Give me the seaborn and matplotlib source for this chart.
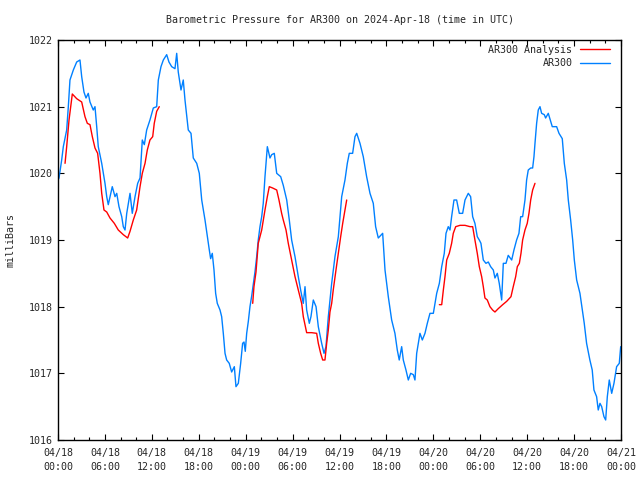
"""
Barometric pressure at AR300, observations vs. analysis.
"""

import matplotlib

matplotlib.use("Agg")
import matplotlib.dates as mdates
import matplotlib.pyplot as plt
import pandas as pd
import seaborn as sns

START = pd.Timestamp("2024-04-18 00:00")

# AR300 observations (hours since 04/18 00:00 UTC, millibars)
obs_hours = [
    0.0, 0.13, 0.47, 0.68, 1.11, 1.32, 1.53, 1.96, 2.39, 2.81, 3.03, 3.32, 3.58,
    3.87, 4.09, 4.51, 4.73, 4.95, 5.15, 5.59, 6.01, 6.23, 6.43, 6.94, 7.29, 7.51,
    7.80, 8.15, 8.35, 8.57, 8.79, 9.21, 9.50, 9.85, 10.19, 10.49, 10.78, 11.04,
    11.34, 11.76, 12.19, 12.62, 12.83, 13.17, 13.47, 13.90, 14.19, 14.54, 14.96,
    15.18, 15.38, 15.73, 16.02, 16.24, 16.66, 17.01, 17.30, 17.74, 18.07, 18.38,
    18.80, 19.10, 19.35, 19.52, 19.73, 19.95, 20.16, 20.37, 20.72, 20.93, 21.14,
    21.36, 21.57, 21.90, 22.21, 22.55, 22.76, 23.06, 23.36, 23.61, 23.79, 23.95,
    24.13, 24.34, 24.55, 24.77, 25.19, 25.41, 25.61, 25.83, 26.05, 26.25, 26.47,
    26.77, 27.11, 27.33, 27.66, 27.97, 28.48, 28.81, 29.25, 29.58, 29.88, 30.31,
    30.73, 31.03, 31.37, 31.59, 31.80, 32.14, 32.35, 32.65, 33.00, 33.29, 33.72,
    34.02, 34.27, 34.57, 35.00, 35.42, 35.85, 36.28, 36.70, 37.00, 37.25, 37.68,
    37.98, 38.20, 38.62, 39.04, 39.47, 39.90, 40.32, 40.62, 40.96, 41.52, 41.82,
    42.24, 42.67, 43.09, 43.39, 43.64, 43.95, 44.16, 44.50, 44.80, 45.10, 45.44,
    45.65, 45.87, 46.08, 46.29, 46.59, 46.93, 47.23, 47.57, 48.00, 48.43, 48.77,
    49.07, 49.40, 49.62, 49.91, 50.13, 50.34, 50.64, 50.98, 51.32, 51.75, 52.05,
    52.47, 52.77, 53.03, 53.32, 53.62, 53.88, 54.09, 54.39, 54.73, 55.03, 55.33,
    55.67, 55.88, 56.18, 56.43, 56.74, 56.95, 57.29, 57.58, 58.02, 58.31, 58.65,
    58.95, 59.17, 59.42, 59.72, 59.93, 60.14, 60.45, 60.70, 60.87, 61.00, 61.21,
    61.42, 61.64, 61.85, 62.19, 62.36, 62.70, 63.21, 63.77, 64.07, 64.49, 64.75,
    65.05, 65.26, 65.56, 65.82, 66.03, 66.33, 66.75, 67.05, 67.30, 67.60, 68.02,
    68.32, 68.54, 68.88, 69.09, 69.31, 69.53, 69.82, 70.04, 70.25, 70.50, 70.81,
    71.10, 71.44, 71.78, 71.96,
]
obs_mbar = [
    1019.90, 1019.93, 1020.20, 1020.40, 1020.65, 1021.00, 1021.40, 1021.55,
    1021.67, 1021.70, 1021.45, 1021.22, 1021.13, 1021.20, 1021.07, 1020.95,
    1021.00, 1020.70, 1020.40, 1020.15, 1019.85, 1019.65, 1019.53, 1019.80,
    1019.65, 1019.70, 1019.50, 1019.35, 1019.20, 1019.15, 1019.40, 1019.70,
    1019.40, 1019.65, 1019.85, 1019.93, 1020.50, 1020.43, 1020.65, 1020.80,
    1020.98, 1021.00, 1021.40, 1021.60, 1021.70, 1021.78, 1021.67, 1021.60,
    1021.57, 1021.80, 1021.52, 1021.25, 1021.40, 1021.10, 1020.65, 1020.60,
    1020.23, 1020.15, 1020.00, 1019.60, 1019.30, 1019.05, 1018.85, 1018.72,
    1018.80, 1018.55, 1018.20, 1018.05, 1017.95, 1017.85, 1017.60, 1017.30,
    1017.20, 1017.15, 1017.02, 1017.10, 1016.80, 1016.85, 1017.15, 1017.45,
    1017.47, 1017.33, 1017.60, 1017.78, 1018.00, 1018.16, 1018.52, 1018.75,
    1019.00, 1019.20, 1019.35, 1019.55, 1019.95, 1020.40, 1020.23, 1020.28,
    1020.30, 1020.00, 1019.95, 1019.82, 1019.60, 1019.30, 1019.00, 1018.75,
    1018.45, 1018.25, 1018.05, 1018.30, 1017.95, 1017.75, 1017.85, 1018.10,
    1018.00, 1017.70, 1017.45, 1017.30, 1017.40, 1017.85, 1018.35, 1018.75,
    1019.05, 1019.65, 1019.90, 1020.15, 1020.30, 1020.30, 1020.55, 1020.60,
    1020.45, 1020.25, 1019.95, 1019.70, 1019.55, 1019.20, 1019.03, 1019.10,
    1018.55, 1018.15, 1017.80, 1017.60, 1017.35, 1017.20, 1017.40, 1017.20,
    1017.05, 1016.90, 1017.00, 1016.98, 1016.90, 1017.30, 1017.45, 1017.60,
    1017.50, 1017.60, 1017.75, 1017.90, 1017.90, 1018.20, 1018.35, 1018.60,
    1018.80, 1019.10, 1019.20, 1019.15, 1019.35, 1019.60, 1019.60, 1019.40,
    1019.40, 1019.60, 1019.70, 1019.65, 1019.35, 1019.25, 1019.05, 1019.00,
    1018.95, 1018.70, 1018.65, 1018.67, 1018.60, 1018.55, 1018.43, 1018.50,
    1018.35, 1018.10, 1018.65, 1018.65, 1018.77, 1018.70, 1018.85, 1019.00,
    1019.10, 1019.35, 1019.35, 1019.60, 1019.90, 1020.05, 1020.08, 1020.08,
    1020.25, 1020.45, 1020.75, 1020.95, 1021.00, 1020.90, 1020.88, 1020.83,
    1020.90, 1020.70, 1020.70, 1020.60, 1020.52, 1020.15, 1019.90, 1019.60,
    1019.30, 1019.00, 1018.70, 1018.40, 1018.20, 1017.95, 1017.75, 1017.45,
    1017.20, 1017.05, 1016.75, 1016.65, 1016.45, 1016.55, 1016.50, 1016.35,
    1016.30, 1016.65, 1016.90, 1016.70, 1016.85, 1017.10, 1017.15, 1017.40,
]

# AR300 analysis, three separate runs
ana1_hours = [
    0.90, 1.11, 1.41, 1.83, 2.39, 3.03, 3.45, 3.75, 4.09, 4.39, 4.73, 5.07, 5.37,
    5.59, 5.88, 6.23, 6.65, 7.20, 7.71, 8.35, 8.91, 9.21, 9.63, 10.06, 10.49,
    10.78, 11.13, 11.42, 11.76, 12.11, 12.31, 12.62, 12.95,
]
ana1_mbar = [
    1020.15, 1020.40, 1020.80, 1021.19, 1021.12, 1021.07, 1020.85, 1020.75,
    1020.73, 1020.55, 1020.38, 1020.30, 1020.00, 1019.70, 1019.45, 1019.42,
    1019.33, 1019.25, 1019.15, 1019.08, 1019.03, 1019.13, 1019.30, 1019.45,
    1019.80, 1020.00, 1020.15, 1020.35, 1020.50, 1020.55, 1020.75, 1020.93,
    1021.00,
]
ana2_hours = [
    24.90, 25.06, 25.32, 25.61, 26.05, 26.47, 26.77, 27.02, 27.45, 27.97, 28.26,
    28.60, 28.81, 29.16, 29.45, 29.88, 30.31, 30.73, 31.16, 31.37, 31.80, 32.44,
    33.08, 33.29, 33.59, 33.85, 34.14, 34.36, 34.57, 34.78, 35.00, 35.20, 35.55,
    35.85, 36.15, 36.41, 36.70, 36.92,
]
ana2_mbar = [
    1018.05, 1018.30, 1018.52, 1018.95, 1019.15, 1019.45, 1019.65, 1019.80,
    1019.78, 1019.75, 1019.60, 1019.40, 1019.30, 1019.15, 1018.95, 1018.70,
    1018.45, 1018.25, 1018.05, 1017.85, 1017.61, 1017.61, 1017.60, 1017.45,
    1017.30, 1017.20, 1017.20, 1017.45, 1017.65, 1017.92, 1018.05, 1018.25,
    1018.55, 1018.80, 1019.05, 1019.25, 1019.45, 1019.60,
]
ana3_hours = [
    48.77, 49.07, 49.28, 49.49, 49.71, 50.04, 50.34, 50.55, 50.86, 51.41, 52.05,
    52.69, 53.03, 53.32, 53.62, 53.88, 54.18, 54.39, 54.60, 54.90, 55.24, 55.58,
    55.88, 56.30, 56.87, 57.38, 57.93, 58.22, 58.53, 58.74, 59.00, 59.21, 59.42,
    59.72, 60.01, 60.23, 60.45, 60.70, 61.00,
]
ana3_mbar = [
    1018.03, 1018.03, 1018.25, 1018.45, 1018.70, 1018.80, 1018.95, 1019.10,
    1019.20, 1019.22, 1019.22, 1019.20, 1019.20, 1019.00, 1018.80, 1018.60,
    1018.45, 1018.30, 1018.13, 1018.10, 1018.00, 1017.95, 1017.92, 1017.97,
    1018.03, 1018.08, 1018.15, 1018.30, 1018.45, 1018.60, 1018.65, 1018.80,
    1019.00, 1019.15, 1019.25, 1019.40, 1019.60, 1019.75, 1019.85,
]

RED = "#ff0000"
BLUE = "#0080ff"
FS = 7.2

obs = pd.DataFrame({"hours": obs_hours, "mbar": obs_mbar})
obs["time"] = START + pd.to_timedelta(obs["hours"], unit="h")

runs = []
for i, (hrs, vals) in enumerate(
    [(ana1_hours, ana1_mbar), (ana2_hours, ana2_mbar), (ana3_hours, ana3_mbar)]
):
    runs.append(pd.DataFrame({"hours": hrs, "mbar": vals, "run": i}))
ana = pd.concat(runs, ignore_index=True)
ana["time"] = START + pd.to_timedelta(ana["hours"], unit="h")

sns.set_style("ticks")
plt.rcParams["font.family"] = ["DejaVu Sans Mono"]
plt.rcParams["font.size"] = FS

fig = plt.figure(figsize=(6.4, 4.8), dpi=100)
ax = fig.add_axes([58 / 640, 40 / 480, 563 / 640, 400 / 480])

sns.lineplot(data=obs, x="time", y="mbar", color=BLUE, lw=1.0, ax=ax,
             label="AR300")
sns.lineplot(data=ana, x="time", y="mbar", units="run", estimator=None,
             color=RED, lw=1.0, ax=ax, label="AR300 Analysis")

ax.set_xlim(START, START + pd.Timedelta(hours=72))
ax.set_ylim(1016, 1022)
ax.set_yticks(range(1016, 1023))

ax.xaxis.set_major_locator(mdates.HourLocator(byhour=range(0, 24, 6)))
ax.xaxis.set_minor_locator(mdates.HourLocator(byhour=range(0, 24, 2)))
ax.xaxis.set_major_formatter(mdates.DateFormatter("%m/%d\n%H:%M"))

ax.tick_params(which="both", direction="in", top=True, right=True,
               color="black", labelsize=FS)
ax.tick_params(axis="x", which="major", length=4.5, width=0.8, pad=6)
ax.tick_params(axis="x", which="minor", length=2.5, width=0.8)
ax.tick_params(axis="y", which="major", length=4.5, width=0.8, pad=4)
for lbl in ax.get_xticklabels():
    lbl.set_linespacing(1.45)
for spine in ax.spines.values():
    spine.set_visible(True)
    spine.set_linewidth(1.0)
    spine.set_color("black")

ax.set_xlabel("")
ax.set_ylabel("milliBars", fontsize=FS)
ax.yaxis.set_label_coords(-42 / 563, 0.5)
ax.set_title("Barometric Pressure for AR300 on 2024-Apr-18 (time in UTC)",
             fontsize=FS, pad=12.5)

handles, labels = ax.get_legend_handles_labels()
order = [labels.index("AR300 Analysis"), labels.index("AR300")]
ax.legend([handles[i] for i in order], [labels[i] for i in order],
          loc="upper right", bbox_to_anchor=(555 / 563, 0.995),
          frameon=False, markerfirst=False, handlelength=3.0,
          handletextpad=0.75, labelspacing=0.35, borderpad=0.3,
          borderaxespad=0, fontsize=FS)

fig.savefig("out.png", dpi=100)
plt.close(fig)
